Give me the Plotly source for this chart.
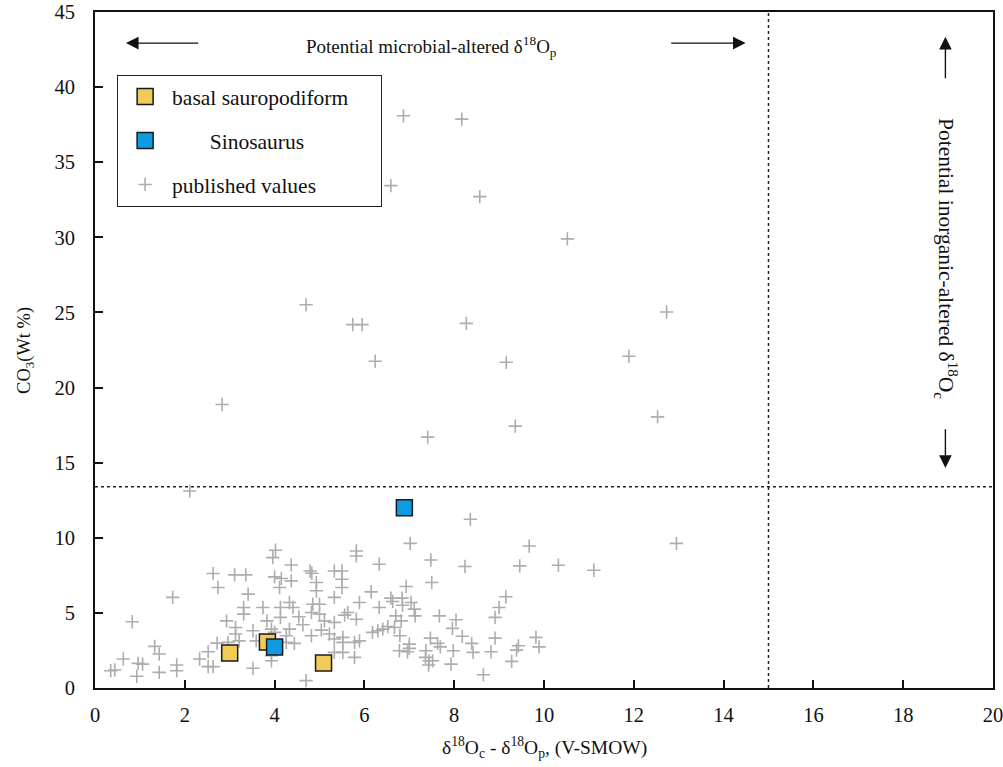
import plotly.graph_objects as go

# ---- data ----
basal_x = [3.00, 3.84, 5.09]
basal_y = [2.33, 3.07, 1.67]

sino_x = [4.00, 6.89]
sino_y = [2.73, 12.00]

pub_x = [6.87, 8.17, 8.57, 6.59, 10.52, 4.70, 5.74, 5.95, 8.27, 12.73, 6.24, 9.16, 11.89, 12.53,
         2.83, 7.41, 9.36, 2.11, 8.36, 7.02, 5.82, 5.82, 9.67, 12.95,
         7.48, 8.24, 9.46, 10.32, 11.11, 6.93, 7.50, 9.15, 9.00, 8.91,
         6.59, 6.63, 6.84, 6.85, 7.04, 7.11, 7.13, 6.70, 6.82, 7.67, 8.04, 7.96, 8.18, 6.79,
         7.47, 7.63, 7.69, 7.00, 7.00, 6.78, 6.96, 7.37, 7.36, 7.44, 7.52, 7.43, 7.98, 7.93,
         8.39, 8.42, 8.91, 8.82, 8.65, 9.28, 9.43, 9.39, 9.82, 9.89,
         6.18, 6.30, 6.41, 6.52, 6.67, 6.33, 6.33, 6.15, 5.89, 5.82, 5.78,
         2.63, 3.11, 3.36, 2.74, 3.41, 4.02, 3.96, 4.37, 4.00, 4.15, 4.37, 4.11,
         4.79, 4.83, 5.33, 5.50, 5.50, 4.93, 4.93, 5.50, 5.33, 4.33, 4.41, 4.85, 5.00,
         4.82, 5.00, 3.31, 3.31, 3.74, 4.13, 4.13, 2.93, 3.13, 3.13, 3.83, 4.54, 4.63,
         4.33, 5.11, 5.33, 5.56, 5.63, 3.52, 3.59, 3.93, 4.00, 2.72, 2.96, 3.21, 4.26,
         4.26, 4.44, 4.82, 5.04, 5.22, 5.33, 5.52, 5.52, 5.78, 5.89, 5.33, 5.52,
         3.93, 3.93, 3.52, 2.52, 2.33, 2.52, 2.63, 4.70, 1.33, 1.43, 0.63, 0.96, 1.06,
         1.82, 1.82, 1.43, 0.35, 0.44, 0.93, 1.73, 0.83]
pub_y = [38.09, 37.87, 32.71, 33.44, 29.90, 25.51, 24.19, 24.19, 24.27, 25.03, 21.75, 21.68, 22.08, 18.05,
         18.87, 16.70, 17.43, 13.11, 11.23, 9.63, 9.12, 8.79, 9.45, 9.63,
         8.52, 8.09, 8.13, 8.17, 7.84, 6.76, 7.02, 6.07, 5.36, 4.70,
         5.98, 5.76, 5.98, 5.51, 5.69, 5.25, 4.80, 4.80, 4.47, 4.80, 4.54, 3.97, 3.44, 3.48,
         3.32, 2.97, 2.74, 2.92, 2.64, 2.48, 2.41, 2.48, 2.04, 1.81, 1.81, 1.53, 2.48, 1.59,
         2.97, 2.37, 3.32, 2.41, 0.88, 1.77, 2.81, 2.52, 3.37, 2.74,
         3.70, 3.81, 3.92, 4.09, 4.03, 8.24, 5.36, 6.40, 5.69, 4.58, 2.04,
         7.62, 7.53, 7.53, 6.69, 6.25, 9.17, 8.68, 8.19, 7.40, 7.29, 7.13, 6.69,
         7.79, 7.64, 7.79, 7.79, 7.24, 7.02, 6.47, 6.69, 6.03, 5.69, 5.36, 5.58, 5.58,
         5.03, 4.92, 5.36, 4.92, 5.36, 5.36, 4.70, 4.47, 4.03, 3.59, 4.47, 4.74, 4.21,
         3.92, 4.47, 4.37, 4.85, 5.03, 3.81, 3.14, 3.92, 3.70, 2.99, 3.04, 3.14, 3.48,
         3.04, 2.97, 3.48, 3.85, 3.59, 3.26, 3.37, 3.04, 3.04, 3.14, 2.37, 2.37,
         2.15, 1.81, 1.31, 2.41, 1.93, 1.42, 1.42, 0.49, 2.77, 2.26, 1.93, 1.64, 1.59,
         1.53, 1.15, 1.04, 1.15, 1.20, 0.78, 6.03, 4.41]

x_ticks = list(range(0, 21, 2))
y_ticks = list(range(0, 46, 5))
h_threshold = 13.4
v_threshold = 15

FONT = "Liberation Serif"
NB = "\u00a0"

fig = go.Figure()

fig.add_trace(go.Scatter(
    x=pub_x, y=pub_y, mode="markers", name="published values", legendgroup="c", legendrank=3,
    marker=dict(symbol="cross-thin", size=9.5, line=dict(color="#adadad", width=1.6), color="#adadad"),
))
fig.add_trace(go.Scatter(
    x=basal_x, y=basal_y, mode="markers", name="basal sauropodiform" + NB * 5, legendgroup="a", legendrank=1,
    marker=dict(symbol="square", size=16, color="#F2CA58", line=dict(color="#1a1a1a", width=1.5)),
))
fig.add_trace(go.Scatter(
    x=sino_x, y=sino_y, mode="markers", name=NB * 7 + "Sinosaurus", legendgroup="b", legendrank=2,
    marker=dict(symbol="square", size=16, color="#0E9BE2", line=dict(color="#1a1a1a", width=1.5)),
))

# dotted threshold lines
fig.add_shape(type="line", xref="x", yref="y", x0=x_ticks[0], x1=x_ticks[-1], y0=h_threshold, y1=h_threshold,
              line=dict(color="#222", width=1.5, dash="dot"))
fig.add_shape(type="line", xref="x", yref="y", x0=v_threshold, x1=v_threshold, y0=y_ticks[0], y1=y_ticks[-1],
              line=dict(color="#222", width=1.5, dash="dot"))

arrow = dict(showarrow=True, arrowhead=2, arrowsize=1.8, arrowwidth=1.4, arrowcolor="#111",
             xref="x", yref="y", axref="x", ayref="y", text="")
# horizontal arrows
fig.add_annotation(x=0.69, y=42.93, ax=2.33, ay=42.93, **arrow)
fig.add_annotation(x=14.49, y=42.93, ax=12.8, ay=42.93, **arrow)
# vertical arrows
fig.add_annotation(x=18.94, y=43.35, ax=18.94, ay=40.49, **arrow)
fig.add_annotation(x=18.94, y=14.65, ax=18.94, ay=17.33, **arrow)

fig.add_annotation(x=7.49, y=42.68, xref="x", yref="y", showarrow=False,
                   text="Potential microbial-altered δ<sup>18</sup>O<sub>p</sub>",
                   font=dict(family=FONT, size=19, color="#111"))
fig.add_annotation(x=18.94, y=28.6, xref="x", yref="y", showarrow=False, textangle=90,
                   text="Potential inorganic-altered δ<sup>18</sup>O<sub>c</sub>",
                   font=dict(family=FONT, size=21.5, color="#111"))

# axis titles
fig.add_annotation(x=0.5, y=-0.088, xref="paper", yref="paper", showarrow=False,
                   text="δ<sup>18</sup>O<sub>c</sub> - δ<sup>18</sup>O<sub>p</sub>, (V-SMOW)",
                   font=dict(family=FONT, size=19.5, color="#111"), yanchor="middle")
fig.add_annotation(x=-0.078, y=0.5, xref="paper", yref="paper", showarrow=False, textangle=-90,
                   text="CO<sub>3</sub>(Wt %)",
                   font=dict(family=FONT, size=18.5, color="#111"), xanchor="center")

axis_common = dict(showline=True, linecolor="#111", linewidth=1.6, mirror=True, ticks="inside",
                   ticklen=8, tickwidth=2, tickcolor="#111", showgrid=False, zeroline=False,
                   automargin=False, ticklabeloverflow="allow",
                   tickfont=dict(family=FONT, size=20.5, color="#111"))

fig.update_layout(
    width=1003, height=767,
    margin=dict(l=95, r=10, t=12, b=78.5),
    paper_bgcolor="white", plot_bgcolor="white",
    xaxis=dict(range=[x_ticks[0], x_ticks[-1]], tickvals=x_ticks, ticklabelstandoff=8, **axis_common),
    yaxis=dict(range=[y_ticks[0], y_ticks[-1]], tickvals=y_ticks, ticklabelstandoff=14, **axis_common),
    showlegend=True,
    legend=dict(x=0.0244, y=0.907, xanchor="left", yanchor="top",
                bordercolor="#222", borderwidth=1.2, bgcolor="white",
                font=dict(family=FONT, size=21.5, color="#111"),
                itemwidth=44, tracegroupgap=13, traceorder="grouped", itemclick=False),
)

fig.write_html("out.html")
